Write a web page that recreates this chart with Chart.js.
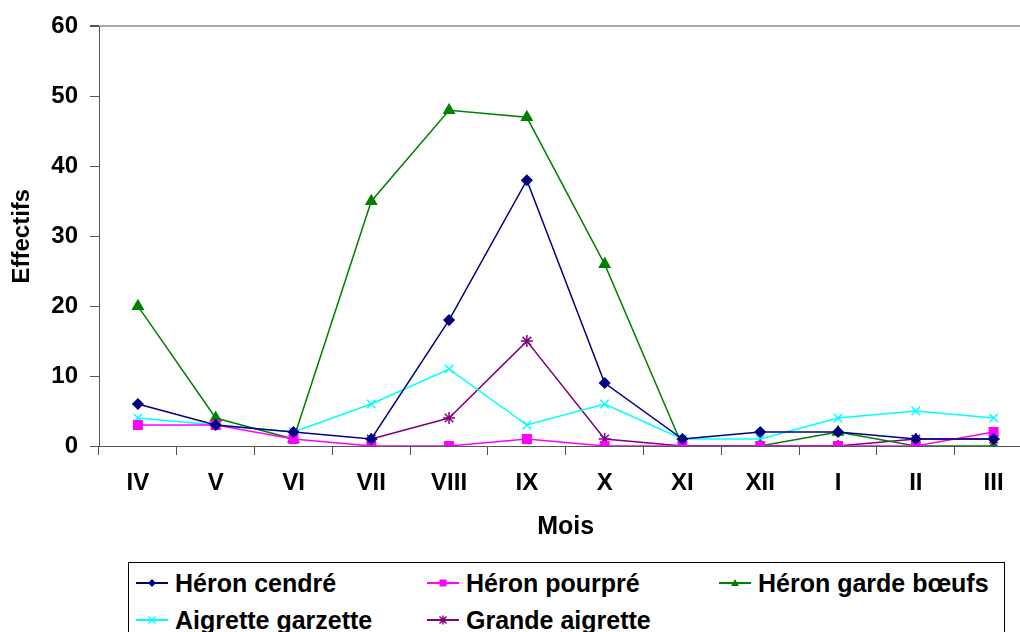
<!DOCTYPE html>
<html>
<head>
<meta charset="utf-8">
<script src="https://cdn.jsdelivr.net/npm/chart.js@4/dist/chart.umd.min.js"></script>
<style>
  html, body { margin: 0; padding: 0; background: #fff; overflow: hidden; width: 1020px; height: 632px; }
  #wrap { position: absolute; left: 0; top: 0; width: 1040px; height: 555px; }
  #legend {
    position: absolute; left: 128px; top: 562px; width: 877px; height: 90px;
    border: 1px solid #000; box-sizing: border-box;
    font: bold 25px "Liberation Sans", Arial, sans-serif; color: #000;
  }
  .item { position: absolute; height: 30px; display: flex; align-items: center; white-space: nowrap; }
  .item svg { margin-right: 7px; }
</style>
</head>
<body>
<div id="wrap"><canvas id="chart"></canvas></div>
<div id="legend"></div>
<script>
(function () {
  "use strict";

  const months = ["IV", "V", "VI", "VII", "VIII", "IX", "X", "XI", "XII", "I", "II", "III"];
  const heronCendre = [6, 3, 2, 1, 18, 38, 9, 1, 2, 2, 1, 1];
  const heronPourpre = [3, 3, 1, 0, 0, 1, 0, 0, 0, 0, 0, 2];
  const heronGardeBoeufs = [20, 4, 1, 35, 48, 47, 26, 0, 0, 2, 0, 0];
  const aigretteGarzette = [4, 3, 2, 6, 11, 3, 6, 1, 1, 4, 5, 4];
  const grandeAigrette = [null, null, null, 1, 4, 15, 1, 0, 0, 0, 1, 1];
  const yTicks = [0, 10, 20, 30, 40, 50, 60];

  const FONT = "'Liberation Sans', Arial, sans-serif";
  const AXIS_COLOR = "#555";

  const series = [
    { label: "Héron cendré", data: heronCendre, color: "#000080", style: "rectRot", radius: 5 },
    { label: "Héron pourpré", data: heronPourpre, color: "#ff00ff", style: "rect", radius: 6 },
    { label: "Héron garde bœufs", data: heronGardeBoeufs, color: "#008000", style: "triangle", radius: 6 },
    { label: "Aigrette garzette", data: aigretteGarzette, color: "#00ffff", style: "crossRot", radius: 6 },
    { label: "Grande aigrette", data: grandeAigrette, color: "#800080", style: "star", radius: 6 }
  ];

  const datasets = series.map(function (s) {
    return {
      label: s.label,
      data: s.data,
      borderColor: s.color,
      backgroundColor: s.color,
      pointBackgroundColor: s.color,
      pointBorderColor: s.color,
      pointStyle: s.style,
      pointRadius: s.radius,
      pointBorderWidth: 1.5,
      borderWidth: 1.5,
      tension: 0,
      spanGaps: false
    };
  });

  new Chart(document.getElementById("chart"), {
    type: "line",
    data: { labels: months, datasets: datasets },
    options: {
      responsive: true,
      maintainAspectRatio: false,
      animation: false,
      layout: { padding: { top: 22, right: 7, left: 0, bottom: 0 } },
      plugins: { legend: { display: false }, tooltip: { enabled: false } },
      scales: {
        x: {
          offset: true,
          border: { color: AXIS_COLOR, width: 1 },
          grid: { offset: true, drawOnChartArea: false, tickLength: 9, tickColor: AXIS_COLOR },
          ticks: { color: "#000", padding: 14, maxRotation: 0, autoSkip: false,
                   font: { family: FONT, size: 24, weight: "bold" } },
          title: { display: true, text: "Mois", color: "#000", padding: { top: 0, bottom: 13 },
                   font: { family: FONT, size: 25, weight: "bold" } },
          afterFit: function (scale) { scale.height = 109; }
        },
        y: {
          min: 0,
          max: 60,
          border: { color: AXIS_COLOR, width: 1 },
          grid: {
            tickLength: 9,
            tickColor: AXIS_COLOR,
            color: function (ctx) { return ctx.tick && ctx.tick.value === 60 ? "#a6a6a6" : "rgba(0,0,0,0)"; },
            lineWidth: function (ctx) { return ctx.tick && ctx.tick.value === 60 ? 2 : 1; }
          },
          afterBuildTicks: function (scale) {
            scale.ticks = yTicks.map(function (v) { return { value: v }; });
          },
          ticks: { color: "#000", padding: 12, font: { family: FONT, size: 24, weight: "bold" } },
          title: { display: true, text: "Effectifs", color: "#000", padding: { top: 8, bottom: 0 },
                   font: { family: FONT, size: 24, weight: "bold" } },
          afterFit: function (scale) { scale.width = 99; }
        }
      }
    }
  });

  // legend drawn as html, laid out like the original box
  function markerSvg(s) {
    var c = s.color;
    var m = "";
    if (s.style === "rectRot") m = '<polygon points="16,2 20,6 16,10 12,6" fill="' + c + '"/>';
    else if (s.style === "rect") m = '<rect x="12.5" y="2.5" width="7" height="7" fill="' + c + '"/>';
    else if (s.style === "triangle") m = '<polygon points="16,2 20,9 12,9" fill="' + c + '"/>';
    else if (s.style === "crossRot") m = '<path d="M12.5 2.5 L19.5 9.5 M19.5 2.5 L12.5 9.5" stroke="' + c + '" stroke-width="1.5"/>';
    else if (s.style === "star") m = '<path d="M12.5 2.5 L19.5 9.5 M19.5 2.5 L12.5 9.5 M16 1.5 L16 10.5" stroke="' + c + '" stroke-width="1.5"/>';
    return '<svg width="32" height="12" viewBox="0 0 32 12"><line x1="0" y1="6" x2="32" y2="6" stroke="' + c +
      '" stroke-width="2"/>' + m + "</svg>";
  }

  var positions = [[7, 5], [298, 5], [590, 5], [7, 42], [298, 42]];
  var legend = document.getElementById("legend");
  series.forEach(function (s, i) {
    var div = document.createElement("div");
    div.className = "item";
    div.style.left = positions[i][0] + "px";
    div.style.top = positions[i][1] + "px";
    div.innerHTML = markerSvg(s);
    var span = document.createElement("span");
    span.textContent = s.label;
    div.appendChild(span);
    legend.appendChild(div);
  });
})();
</script>
</body>
</html>
